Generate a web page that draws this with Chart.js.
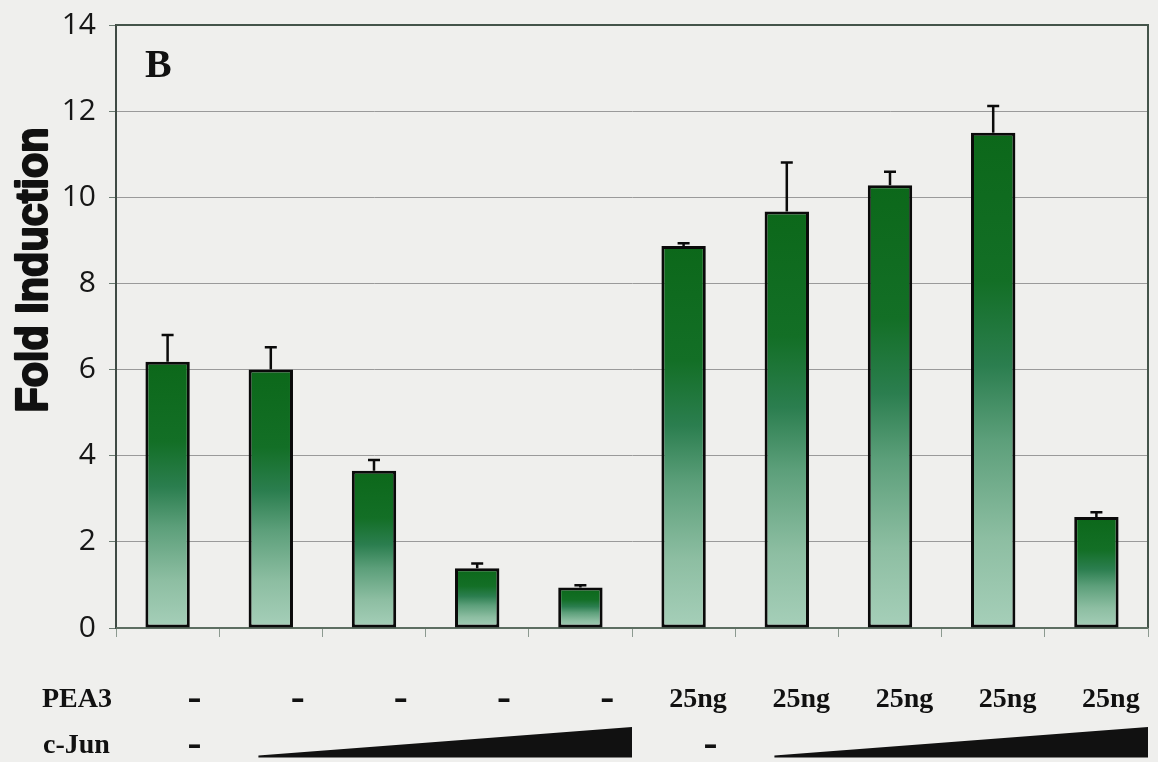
<!DOCTYPE html>
<html>
<head>
<meta charset="utf-8">
<script src="https://cdn.jsdelivr.net/npm/chart.js@4.4.1/dist/chart.umd.min.js"></script>
<style>
  html, body { margin: 0; padding: 0; background: #efefed; }
  #wrap { width: 1158px; height: 762px; position: relative; }
</style>
</head>
<body>
<div id="wrap"><canvas id="c"></canvas></div>
<script>
// Luciferase reporter: fold induction per lane
const lanes = ['1', '2', '3', '4', '5', '6', '7', '8', '9', '10'];
const foldInduction = [6.18, 6.0, 3.65, 1.39, 0.94, 8.87, 9.67, 10.28, 11.5, 2.58];
const errorUpper = [0.62, 0.52, 0.25, 0.11, 0.05, 0.06, 1.14, 0.31, 0.62, 0.11];
const yTicks = [0, 2, 4, 6, 8, 10, 12, 14];

// Transfection table under the axis
const pea3Row = ['-', '-', '-', '-', '-', '25ng', '25ng', '25ng', '25ng', '25ng'];
const cJunDose = [0, 1, 2, 3, 4, 0, 1, 2, 3, 4];   // 0 = none, >0 = increasing amount (wedge)

const panelLabel = 'B';
const yTitle = 'Fold Induction';

function barGradient(ctx) {
  const chart = ctx.chart;
  const ys = chart.scales.y;
  if (!chart.chartArea || !ys) return '#0e6b1c';
  const top = ys.getPixelForValue(foldInduction[ctx.dataIndex]);
  const base = ys.getPixelForValue(0);
  const g = chart.ctx.createLinearGradient(0, top, 0, base);
  g.addColorStop(0.00, '#0c681a');
  g.addColorStop(0.30, '#136f26');
  g.addColorStop(0.47, '#2b7e4f');
  g.addColorStop(0.62, '#5c9f7a');
  g.addColorStop(0.82, '#8dbea2');
  g.addColorStop(1.00, '#a6cfb9');
  return g;
}

// Upper error bars
const errorBars = {
  id: 'errorBars',
  afterDatasetsDraw(chart) {
    const { ctx } = chart;
    const ys = chart.scales.y;
    const meta = chart.getDatasetMeta(0);
    ctx.save();
    ctx.strokeStyle = '#0a0a0a';
    ctx.lineWidth = 2.5;
    meta.data.forEach((el, i) => {
      const yTop = ys.getPixelForValue(foldInduction[i] + errorUpper[i]);
      ctx.beginPath();
      ctx.moveTo(el.x, el.y);
      ctx.lineTo(el.x, yTop);
      ctx.moveTo(el.x - 6, yTop);
      ctx.lineTo(el.x + 6, yTop);
      ctx.stroke();
    });
    ctx.restore();
  }
};

// Plot frame (top and right edges, base line)
const frame = {
  id: 'frame',
  beforeDatasetsDraw(chart) {
    const { ctx, chartArea: a } = chart;
    ctx.save();
    ctx.strokeStyle = '#44544a';
    ctx.lineWidth = 2;
    ctx.beginPath();
    ctx.moveTo(a.left, a.top);
    ctx.lineTo(a.right, a.top);
    ctx.lineTo(a.right, a.bottom);
    ctx.stroke();
    ctx.strokeStyle = '#5d6e62';
    ctx.beginPath();
    ctx.moveTo(a.left, a.bottom);
    ctx.lineTo(a.right, a.bottom);
    ctx.stroke();
    ctx.restore();
  }
};

// Panel letter, axis title and the PEA3 / c-Jun table
const annotations = {
  id: 'annotations',
  afterDraw(chart) {
    const { ctx, chartArea: a } = chart;
    const xs = chart.scales.x;
    const catW = (a.right - a.left) / lanes.length;
    ctx.save();
    ctx.fillStyle = '#111';
    ctx.strokeStyle = '#111';

    // panel letter
    ctx.font = 'bold 40px "Liberation Serif", "Times New Roman", serif';
    ctx.textAlign = 'left';
    ctx.textBaseline = 'alphabetic';
    ctx.fillText(panelLabel, a.left + 29, a.top + 52);

    // y-axis title, condensed heavy sans
    ctx.save();
    ctx.font = 'bold 44px "Liberation Sans", Arial, sans-serif';
    const w = ctx.measureText(yTitle).width;
    const target = 285;
    ctx.translate(47, 270);
    ctx.rotate(-Math.PI / 2);
    ctx.scale(target / w, 1);
    ctx.textAlign = 'center';
    ctx.lineWidth = 2.2;
    ctx.lineJoin = 'round';
    ctx.fillText(yTitle, 0, 0);
    ctx.strokeText(yTitle, 0, 0);
    ctx.restore();

    // table
    const labelFont = 'bold 28px "Liberation Serif", "Times New Roman", serif';
    const dashFont = 'bold 42px "Liberation Serif", "Times New Roman", serif';
    ctx.font = labelFont;
    ctx.textAlign = 'left';
    const row1 = 707, row2 = 753;
    ctx.fillText('PEA3', 42, row1);
    ctx.fillText('c-Jun', 43, row2);

    ctx.textAlign = 'center';
    pea3Row.forEach((t, i) => {
      const cx = xs.getPixelForValue(i);
      if (t === '-') {
        ctx.font = dashFont;
        ctx.fillText(t, cx + 0.26 * catW, row1 + 3);
      } else {
        ctx.font = labelFont;
        ctx.fillText(t, cx + 0.14 * catW, row1);
      }
    });

    // c-Jun: dash where none, wedge across each dose series
    let i = 0;
    while (i < cJunDose.length) {
      if (cJunDose[i] === 0) {
        ctx.font = dashFont;
        ctx.fillText('-', xs.getPixelForValue(i) + 0.26 * catW, row2 + 3);
        i++;
        continue;
      }
      let j = i;
      while (j + 1 < cJunDose.length && cJunDose[j + 1] > 0) j++;
      const x0 = xs.getPixelForValue(i) - catW / 2 + 0.38 * catW;
      const x1 = xs.getPixelForValue(j) + catW / 2;
      const yb = 757.5, yt = 727;
      ctx.beginPath();
      ctx.moveTo(x0, yb);
      ctx.lineTo(x0, yb - 2);
      ctx.lineTo(x1, yt);
      ctx.lineTo(x1, yb);
      ctx.closePath();
      ctx.fill();
      i = j + 1;
    }
    ctx.restore();
  }
};

new Chart(document.getElementById('c'), {
  type: 'bar',
  data: {
    labels: lanes,
    datasets: [{
      data: foldInduction,
      backgroundColor: barGradient,
      borderColor: '#0a0a0a',
      borderWidth: 3,
      borderSkipped: false,
      barPercentage: 0.86,
      categoryPercentage: 0.5
    }]
  },
  options: {
    responsive: true,
    maintainAspectRatio: false,
    animation: false,
    layout: { padding: { left: 0, top: 25, right: 10, bottom: 0 } },
    plugins: { legend: { display: false }, tooltip: { enabled: false } },
    scales: {
      x: {
        offset: true,
        grid: { display: true, offset: true, drawOnChartArea: false, drawTicks: true, tickLength: 9, color: '#8c9a90' },
        border: { display: false },
        ticks: { color: 'rgba(0,0,0,0)', font: { size: 10 } },
        afterFit(s) { s.height = 134; s.paddingLeft = 0; s.paddingRight = 0; }
      },
      y: {
        min: 0,
        max: 14,
        afterBuildTicks(s) { s.ticks = yTicks.map(v => ({ value: v })); },
        grid: { color: '#9a9a9a', lineWidth: 1, tickLength: 7, tickColor: '#6a7a70' },
        border: { display: true, color: '#3f4a44', width: 2 },
        ticks: {
          color: '#161616',
          padding: 13,
          font: { family: '"Open Sans", "DejaVu Sans", sans-serif', size: 30 }
        },
        afterFit(s) { s.width = 116; s.paddingTop = 0; s.paddingBottom = 0; }
      }
    }
  },
  plugins: [frame, errorBars, annotations]
});
</script>
</body>
</html>
